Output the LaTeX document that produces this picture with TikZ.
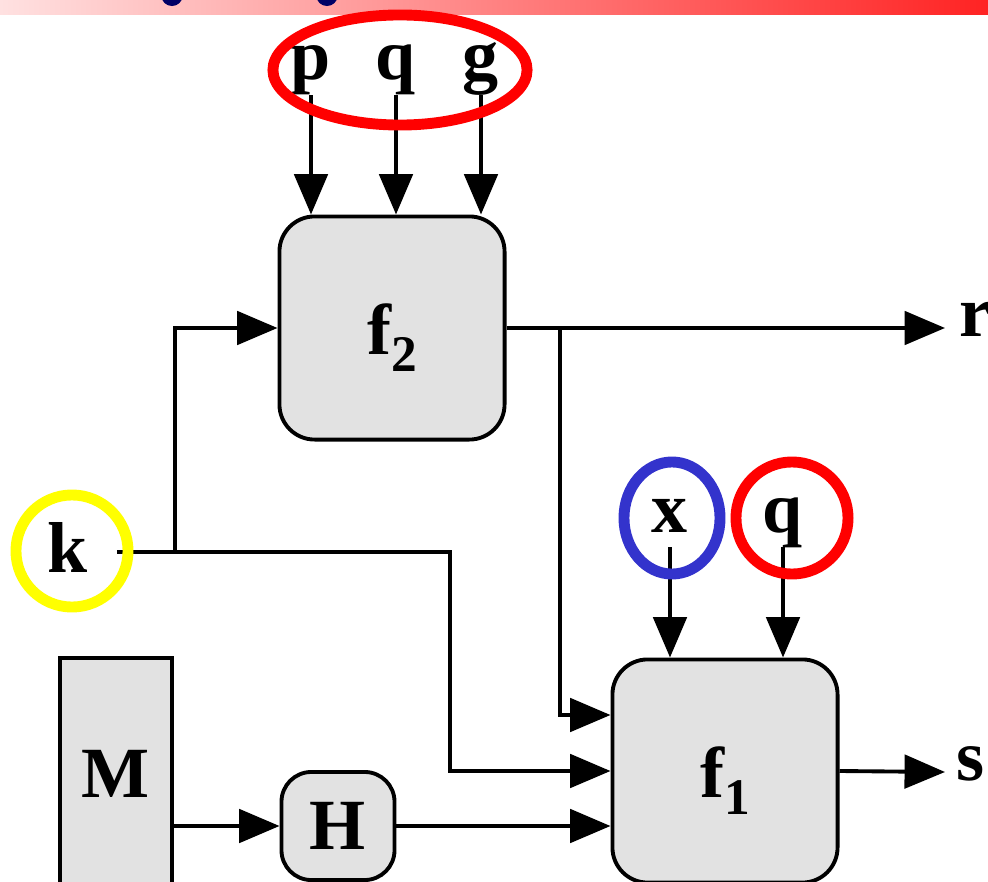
\documentclass[tikz,border=0pt]{standalone}
\usepackage{fontspec}
\setmainfont{Liberation Serif}
\usetikzlibrary{arrows.meta, positioning, calc}
\definecolor{hlred}{RGB}{255, 0, 0}
\definecolor{hlblue}{RGB}{51, 51, 204}
\definecolor{hlyellow}{RGB}{255, 255, 0}
\definecolor{boxgray}{RGB}{226, 226, 226}
\definecolor{titlenavy}{RGB}{0, 0, 102}
\definecolor{stripleft}{RGB}{255, 225, 225}
\definecolor{stripright}{RGB}{255, 35, 35}
\newcommand{\lblfont}{\bfseries\fontsize{20.5}{24}\selectfont}
\newcommand{\fsub}[1]{{\fontsize{14.6}{15}\selectfont\raisebox{-4.8pt}{#1}}}
\newcommand{\flabel}[1]{\raisebox{-7.6pt}[0pt][0pt]{f\fsub{#1}}}

\begin{document}
\begin{tikzpicture}[
    x=0.01cm, y=-0.01cm,
    arrow/.style={-{Triangle[length=11.5pt, width=9.5pt]}, line width=1.1pt},
    line/.style={line width=1.1pt},
    fbox/.style={rectangle, rounded corners=10pt, draw, line width=1.1pt,
        fill=boxgray, minimum width=2.25cm, minimum height=2.23cm,
        inner sep=0pt, font=\lblfont},
    hbox/.style={rectangle, rounded corners=8.5pt, draw, line width=1.1pt,
        fill=boxgray, minimum width=1.13cm, minimum height=1.08cm,
        inner sep=0pt, font=\lblfont},
    mbox/.style={rectangle, draw, line width=1.1pt, fill=boxgray,
        minimum width=1.12cm, minimum height=2.32cm, inner sep=0pt, font=\lblfont},
    lbl/.style={font=\lblfont, inner sep=2pt, text height=0.69em, text depth=0.22em},
    ring/.style={line width=3.1pt}
]
\useasboundingbox (0,0) rectangle (988,882);

% === Title strip (cut off) ===
\shade[left color=stripleft, right color=stripright] (0,0) rectangle (988,15);
\begin{scope}
    \clip (0,0) rectangle (988,15);
    \fill[titlenavy] (172,-4) ellipse [x radius=0.105cm, y radius=0.1cm];
    \fill[titlenavy] (327,-4) ellipse [x radius=0.105cm, y radius=0.1cm];
\end{scope}

% === Blocks ===
\node[fbox] (f2) at (392,328) {\flabel{2}};
\node[fbox] (f1) at (725,771) {\flabel{1}};
\node[mbox] (M) at (116,774) {M};
\node[hbox] (H) at (338,826) {H};

% === Inputs of f2 ===
\node[lbl, anchor=base] (inp) at (311,80) {p};
\node[lbl, anchor=base] (inq) at (396,80) {q};
\node[lbl, anchor=base] (ing) at (481,80) {g};
\foreach \i in {p,q,g} {
    \draw[arrow] (in\i.south) -- (in\i.south |- f2.north);
}

% === Inputs of f1 ===
\node[lbl, anchor=base] (inx) at (670,532) {x};
\node[lbl, anchor=base] (inqq) at (783,532) {q};
\draw[arrow] (inx.south) -- (inx.south |- f1.north);
\draw[arrow] (inqq.south) -- (inqq.south |- f1.north);

% === Outputs ===
\node[lbl, anchor=west, inner xsep=4pt] (r) at (945,328) {r};
\node[lbl, anchor=west, inner xsep=3pt] (s) at (945,772) {s};
\draw[arrow] (f2.east) -- (r.west);
\draw[arrow] (f1.east) -- (s.west);

% f2 output also fed into f1
\coordinate (rsplit) at (560,328);
\draw[arrow] (rsplit) |- ($(f1.west) + (0,-56)$);

% === Key k ===
\node[lbl, anchor=base, inner xsep=8pt] (k) at (68,572) {k};
\coordinate (kjoin) at (175,552);
\coordinate (kturn) at (450,552);
\draw[arrow] (k.east |- kjoin) -- (kturn) |- (f1.west);
\draw[arrow] (kjoin) |- (f2.west);

% === M -> H -> f1 ===
\draw[arrow] (M.east |- H.west) -- (H.west);
\draw[arrow] (H.east) -- (H.east -| f1.west);

% === Highlight rings ===
\draw[ring, hlred] (400,70) ellipse [x radius=1.27cm, y radius=0.55cm];
\draw[ring, hlyellow] (72,551) circle [radius=0.56cm];
\draw[ring, hlblue] (672,518) ellipse [x radius=0.48cm, y radius=0.56cm];
\draw[ring, hlred] (792,518) circle [radius=0.56cm];

\end{tikzpicture}
\end{document}
